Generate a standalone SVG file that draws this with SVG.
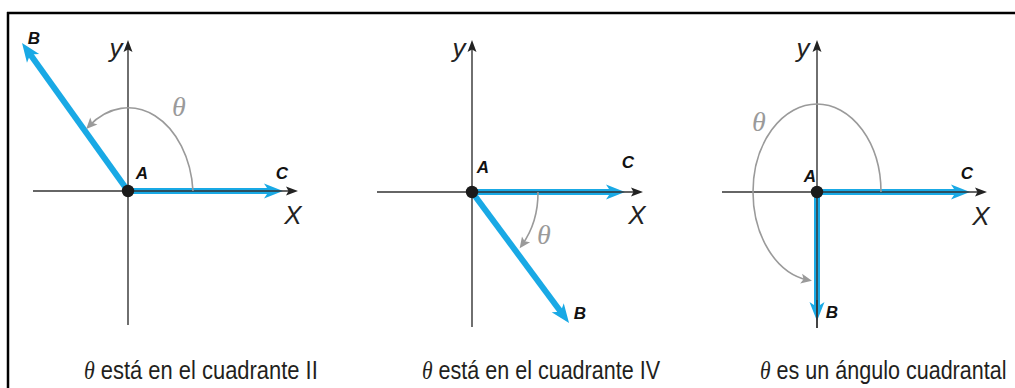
<svg xmlns="http://www.w3.org/2000/svg" width="1015" height="388" viewBox="0 0 1015 388">
<defs>
<marker id="blueHead" markerUnits="userSpaceOnUse" markerWidth="40" markerHeight="40" refX="0" refY="0" orient="auto" overflow="visible">
<path d="M13,0 L-6,-7.5 L-1,0 L-6,7.5 Z" fill="#19a9e5"/>
</marker>
<marker id="axisHead" markerUnits="userSpaceOnUse" markerWidth="30" markerHeight="30" refX="0" refY="0" orient="auto" overflow="visible">
<path d="M9,0 L-3,-4.5 L-0.5,0 L-3,4.5 Z" fill="#222"/>
</marker>
<marker id="grayHead" markerUnits="userSpaceOnUse" markerWidth="30" markerHeight="30" refX="0" refY="0" orient="auto" overflow="visible">
<path d="M4,0 L-7,-5 L-4.5,0 L-7,5 Z" fill="#9a9a9a"/>
</marker>
</defs>
<style>
.frame{stroke:#000;stroke-width:2.5;fill:none}
.blue{stroke:#19a9e5;stroke-width:6;fill:none;marker-end:url(#blueHead)}
.axis{stroke:#333;stroke-width:1.4;fill:none;marker-end:url(#axisHead)}
.arc{stroke:#9a9a9a;stroke-width:1.6;fill:none;marker-end:url(#grayHead)}
.dot{fill:#1a1a1a}
.pt{font-family:"Liberation Sans",Arial,sans-serif;font-weight:bold;font-style:italic;font-size:17px;fill:#111;text-anchor:middle}
.ax{font-family:"Liberation Sans Narrow","Liberation Sans",Arial,sans-serif;font-style:italic;font-size:26px;fill:#222;text-anchor:middle}
.th{font-family:"Liberation Serif","Times New Roman",serif;font-style:italic;font-size:28px;fill:#9a9a9a;text-anchor:middle}
.cap{font-family:"Liberation Sans",Arial,sans-serif;font-size:25px;fill:#231f20}
.capth{font-family:"Liberation Serif","Times New Roman",serif;font-style:italic}
</style>
<g id="frame">
<line class="frame" x1="7" y1="13" x2="1015" y2="13"/>
<line class="frame" x1="8" y1="12" x2="8" y2="388"/>
</g>
<g id="connectors">
<line class="blue" x1="128" y1="191" x2="270" y2="191"/>
<line class="blue" x1="128" y1="191" x2="29.6" y2="53.6"/>
<line class="axis" x1="33" y1="191" x2="289" y2="191"/>
<line class="axis" x1="128" y1="325" x2="128" y2="49"/>
<path class="arc" d="M193,191 A65,90 0 0 0 89,126"/>
<line class="blue" x1="472" y1="192" x2="612" y2="192"/>
<line class="blue" x1="472" y1="192" x2="561.3" y2="312.5"/>
<line class="axis" x1="377" y1="192" x2="634" y2="192"/>
<line class="axis" x1="472" y1="327" x2="472" y2="49"/>
<path class="arc" d="M538,192 A66,80 0 0 1 522,245"/>
<line class="blue" x1="817" y1="192" x2="957" y2="192"/>
<line class="blue" x1="817" y1="192" x2="817" y2="308"/>
<line class="axis" x1="722" y1="192" x2="978" y2="192"/>
<line class="axis" x1="817" y1="328" x2="817" y2="49"/>
<line x1="817" y1="300" x2="817" y2="328" stroke="#333" stroke-width="1.4"/>
<path class="arc" d="M881,192 A64,88 0 0 0 753,192 A64,89 0 0 0 808,280"/>
</g>
<g id="node-A1"><circle class="dot" cx="128" cy="191" r="6.2"/><text class="pt" x="142" y="179">A</text></g>
<g id="node-B1"><text class="pt" x="34" y="44">B</text></g>
<g id="node-C1"><text class="pt" x="282" y="179">C</text></g>
<g id="labels1">
<text class="ax" x="116" y="57">y</text>
<text class="ax" x="293" y="224">X</text>
<text class="th" x="179" y="116">θ</text>
<text class="cap" transform="translate(84,379) scale(0.85,1)" x="0" y="0" textLength="275" lengthAdjust="spacingAndGlyphs"><tspan class="capth">θ</tspan> está en el cuadrante II</text>
</g>
<g id="node-A2"><circle class="dot" cx="472" cy="192" r="6.2"/><text class="pt" x="483" y="173">A</text></g>
<g id="node-B2"><text class="pt" x="580" y="319">B</text></g>
<g id="node-C2"><text class="pt" x="628" y="168">C</text></g>
<g id="labels2">
<text class="ax" x="459" y="57">y</text>
<text class="ax" x="637" y="224">X</text>
<text class="th" x="544" y="244">θ</text>
<text class="cap" transform="translate(422,379) scale(0.85,1)" x="0" y="0" textLength="280" lengthAdjust="spacingAndGlyphs"><tspan class="capth">θ</tspan> está en el cuadrante IV</text>
</g>
<g id="node-A3"><circle class="dot" cx="817" cy="192" r="6.2"/><text class="pt" x="810" y="182">A</text></g>
<g id="node-B3"><text class="pt" x="832" y="318">B</text></g>
<g id="node-C3"><text class="pt" x="967" y="179">C</text></g>
<g id="labels3">
<text class="ax" x="803" y="57">y</text>
<text class="ax" x="981" y="225">X</text>
<text class="th" x="759" y="131">θ</text>
<text class="cap" transform="translate(760,379) scale(0.85,1)" x="0" y="0" textLength="290" lengthAdjust="spacingAndGlyphs"><tspan class="capth">θ</tspan> es un ángulo cuadrantal</text>
</g>
</svg>
